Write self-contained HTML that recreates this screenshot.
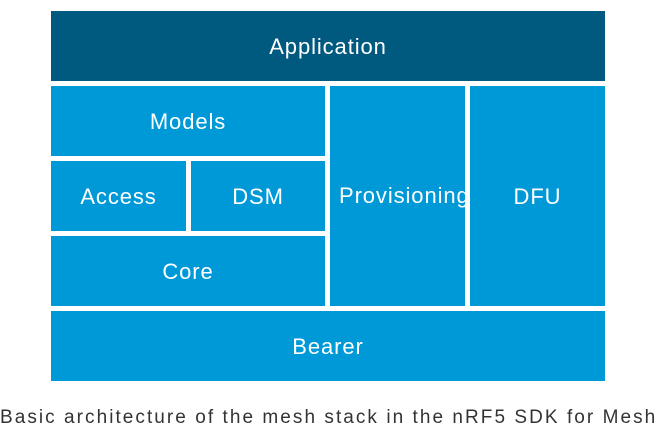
<!DOCTYPE html><html><head><style>
body{margin:0;width:663px;height:438px;background:#fff;position:relative;font-family:"Liberation Sans",sans-serif;overflow:hidden}
.b{position:absolute;background:#0099d8;color:#fff;font-size:22px;letter-spacing:0.9px;display:flex;justify-content:center;align-items:center;padding-top:2px;box-sizing:border-box}
</style></head><body>
<div class="b" style="left:51px;top:11px;width:554px;height:70px;background:#005a7f">Application</div>
<div class="b" style="left:51px;top:86px;width:274px;height:70px">Models</div>
<div class="b" style="left:51px;top:161px;width:135px;height:70px">Access</div>
<div class="b" style="left:191px;top:161px;width:134px;height:70px">DSM</div>
<div class="b" style="left:51px;top:236px;width:274px;height:70px">Core</div>
<div class="b" style="left:330px;top:86px;width:135px;height:220px;white-space:nowrap;overflow:visible"><span style="position:absolute;left:9px;top:97px">Provisioning</span></div>
<div class="b" style="left:470px;top:86px;width:135px;height:220px">DFU</div>
<div class="b" style="left:51px;top:311px;width:554px;height:70px">Bearer</div>
<div style="position:absolute;left:0;top:407px;width:663px;font-size:19px;letter-spacing:2.05px;color:#333;white-space:nowrap">Basic architecture of the mesh stack in the nRF5 SDK for Mesh</div>
</body></html>
